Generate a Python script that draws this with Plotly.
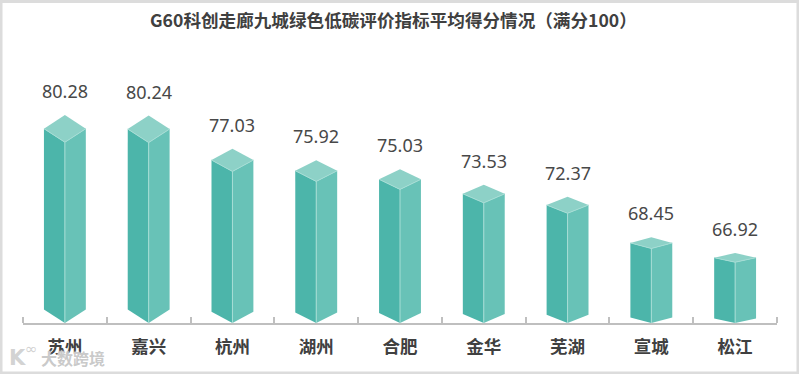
import plotly.graph_objects as go

categories = ["苏州", "嘉兴", "杭州", "湖州", "合肥", "金华", "芜湖", "宣城", "松江"]
values = [80.28, 80.24, 77.03, 75.92, 75.03, 73.53, 72.37, 68.45, 66.92]

W, H = 799, 374
L, R, T, B = 23, 22, 40, 51
BASE = 60.15
PX_PER_UNIT = 8.98
HALF = 0.25
DEPTH = 0.075
LEFT_C, RIGHT_C, TOP_C, EDGE_C = "#4cb5aa", "#68c2b7", "#8dd1c7", "#a6ddd5"

fig = go.Figure()

def face(xs, ys, color):
    fig.add_trace(go.Scatter(x=xs, y=ys, mode="lines", fill="toself", fillcolor=color,
                             line=dict(width=0, color=color, simplify=False), hoverinfo="skip", showlegend=False))

for i, v in enumerate(values):
    d = DEPTH * (v - BASE)
    xl, xr = i - HALF, i + HALF
    face([xl, i, i, xl, xl], [v + d, v, BASE, BASE + d, v + d], LEFT_C)
    face([i, xr, xr, i, i], [v, v + d, BASE + d, BASE, v], RIGHT_C)
    face([xl, i, xr, i, xl], [v + d, v + 2 * d, v + d, v, v + d], TOP_C)
    fig.add_trace(go.Scatter(x=[xl, i, xr, None, i, i], y=[v + d, v, v + d, None, v, BASE], mode="lines",
                             line=dict(width=1, color=EDGE_C), hoverinfo="skip", showlegend=False))
    fig.add_annotation(x=i, y=v + 2 * d, yshift=24, text=f"{v:.2f}", showarrow=False, yanchor="middle",
                       font=dict(family="Noto Sans, Noto Sans CJK SC", size=18, color="#484848"))

def px(x):
    return (x - L) / (W - L - R)

def py(y):
    return 1 - (y - T) / (H - T - B)

fig.add_annotation(xref="paper", yref="paper", x=px(393), y=py(20), xanchor="center", yanchor="middle",
                   text="<b>G60科创走廊九城绿色低碳评价指标平均得分情况（满分100）</b>", showarrow=False,
                   font=dict(family="Noto Sans CJK SC", size=17.6, color="#404040"))

# watermark
WM_SHADOW = "0 0 2px #ffffff, 0 0 2px #ffffff"
fig.add_annotation(xref="paper", yref="paper", x=px(73), y=py(357.5), xanchor="center", yanchor="middle",
                   text="<b>大数跨境</b>", showarrow=False,
                   font=dict(family="Noto Sans CJK SC", size=16, color="rgba(195,195,195,0.9)", shadow=WM_SHADOW))
fig.add_annotation(xref="paper", yref="paper", x=px(17), y=py(358), xanchor="center", yanchor="middle",
                   text="<b>K</b>", showarrow=False,
                   font=dict(family="DejaVu Sans", size=21, color="rgba(205,205,205,0.9)", shadow=WM_SHADOW))
fig.add_annotation(xref="paper", yref="paper", x=px(31), y=py(349), xanchor="center", yanchor="middle",
                   text="∞", showarrow=False,
                   font=dict(family="DejaVu Sans", size=15, color="rgba(205,205,205,0.9)", shadow=WM_SHADOW))

# outer frame
fig.add_shape(type="rect", xref="paper", yref="paper", x0=px(1), x1=px(798), y0=py(373), y1=py(1.5),
              line=dict(color="#dcdcdc", width=3), layer="below")

fig.update_layout(
    width=W, height=H, margin=dict(l=L, r=R, t=T, b=B, pad=0),
    paper_bgcolor="white", plot_bgcolor="white", showlegend=False,
    xaxis=dict(range=[-0.5, len(categories) - 0.5], tickmode="array",
               tickvals=list(range(len(categories))), ticktext=[f"<b>{c}</b>" for c in categories],
               ticks="", showgrid=False, zeroline=False, showline=True, linecolor="#bfbfbf", linewidth=2,
               tickfont=dict(family="Noto Sans CJK SC", size=17.5, color="#404040"), ticklabelstandoff=7,
               minor=dict(tickvals=[i - 0.5 for i in range(len(categories) + 1)], ticks="inside",
                          ticklen=6, tickwidth=2, tickcolor="#bfbfbf", showgrid=False)),
    yaxis=dict(range=[BASE, BASE + (H - T - B) / PX_PER_UNIT], visible=False),
)
fig.write_html("out.html", config={"displayModeBar": False},
               post_script="document.body.style.margin='0';")
